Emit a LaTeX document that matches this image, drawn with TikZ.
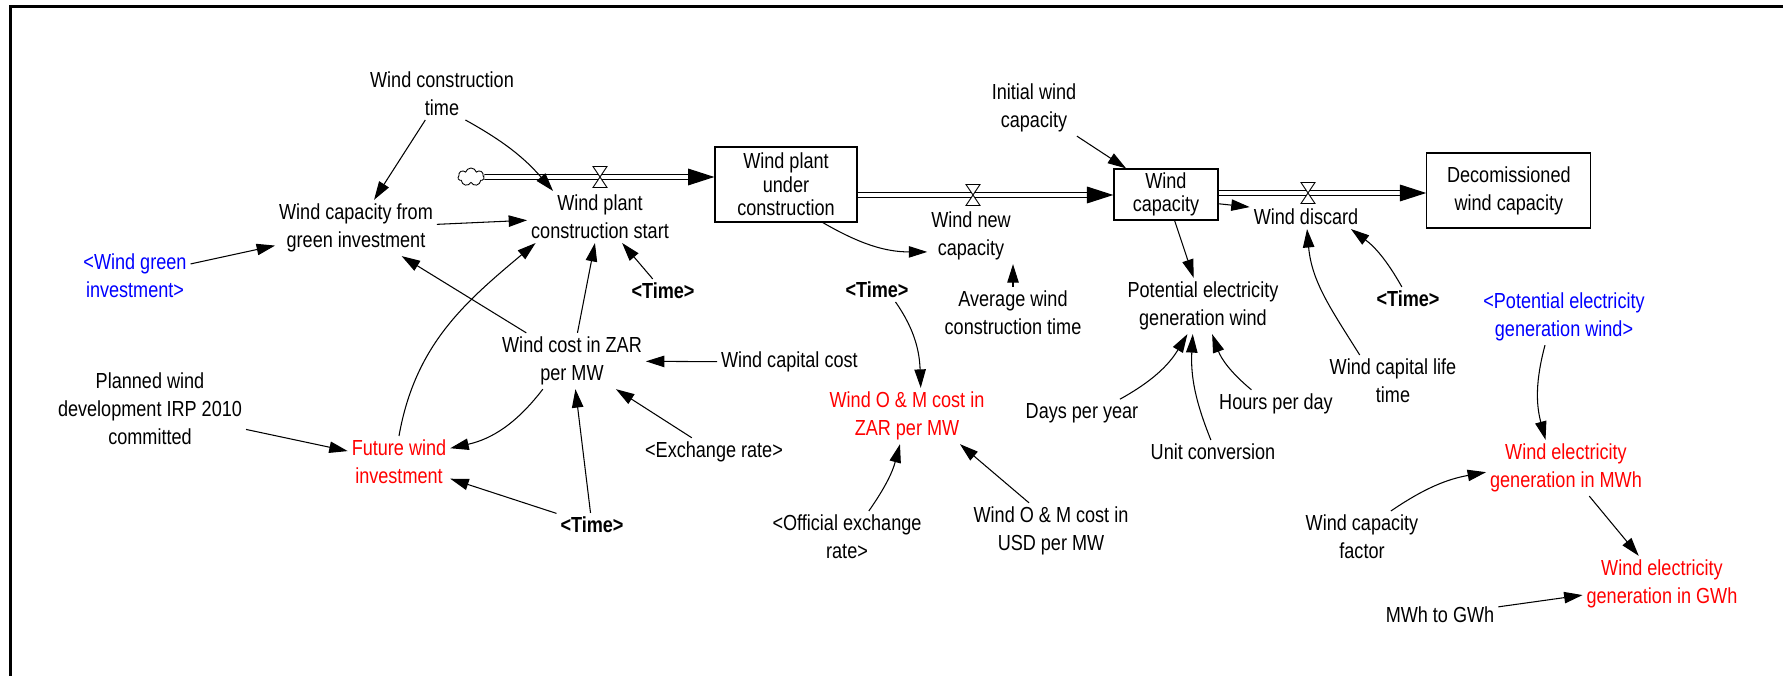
\documentclass[tikz,border=0pt]{standalone}
\usepackage{fontspec}
\setmainfont{Liberation Sans}[FakeStretch=0.83]
\usepackage{tikz}
\usetikzlibrary{arrows.meta,positioning,shapes.symbols,calc}

\newcommand\diafont{\fontsize{12.4}{15.9}\selectfont}
\newcommand\stockfont{\fontsize{12.4}{13.3}\selectfont}

\begin{document}
\begin{tikzpicture}[>={Triangle[length=10.5pt,width=6.5pt]},x=0.02cm,y=0.02cm,line width=.6pt,
  node distance=2cm,on grid,
  every node/.style={align=center,font=\diafont,inner sep=2pt},
  stock/.style={draw,line width=.7pt,font=\stockfont,inner sep=0pt},
  shadowvar/.style={text=blue},
  outvar/.style={text=red},
  timevar/.style={font=\diafont\bfseries},
  pipe/.style={double distance=2.2pt,line width=.6pt,shorten >=14pt},
  pipetip/.style={-{Triangle[length=15pt,width=9.5pt]}},
  valve/.pic={\draw[fill=white,line width=.5pt] (-7,10.5) -- (7,10.5) -- (-7,-10.5) -- (7,-10.5) -- cycle;}]
\useasboundingbox (0,0) rectangle (1783,676);
\draw[line width=1.7pt] (10.5,0) -- (10.5,669.7) -- (1783,669.7);

% stocks and flows
\node[stock,minimum width=2.84cm,minimum height=1.5cm] (WPUC) at (786,491.5) {Wind plant\\under\\construction};
\node[stock,minimum width=2.08cm,minimum height=1.02cm] (WC) [below right=0.2cm and 7.6cm of WPUC] {Wind\\capacity};
\node[stock,minimum width=3.28cm,minimum height=1.5cm,font=\diafont] (DWC) [above right=0.08cm and 6.86cm of WC] {Decomissioned\\wind capacity};
\coordinate (vA) at (600,499);
\coordinate (vB) at (973,481);
\coordinate (vC) at (1308,483);
\node[cloud,draw,cloud puffs=7,aspect=1.5,inner sep=0pt,minimum width=0.52cm,minimum height=0.36cm,line width=.5pt] (src) at (471,499) {};

\draw[pipe] (src) -- (WPUC.west |- vA);
\draw[pipetip] ($(WPUC.west |- vA)+(-15pt,0)$) -- (WPUC.west |- vA);
\draw[pipe] (WPUC.east |- vB) -- (WC.west |- vB);
\draw[pipetip] ($(WC.west |- vB)+(-15pt,0)$) -- (WC.west |- vB);
\draw[pipe] (WC.east |- vC) -- (DWC.west |- vC);
\draw[pipetip] ($(DWC.west |- vC)+(-15pt,0)$) -- (DWC.west |- vC);
\pic at (vA) {valve};
\pic at (vB) {valve};
\pic at (vC) {valve};

\node (WPCS) at (600,459) {Wind plant\\construction start};
\node (WNC) at (971,440) {Wind new\\capacity};
\node (WD) at (1306,459) {Wind discard};

% auxiliaries
\node (WCT) at (442,582) {Wind construction\\time};
\node (WCG) at (356,448) {Wind capacity from\\green investment};
\node[shadowvar] (WGI) at (135,400) {<Wind green\\investment>};
\node[timevar] (TimeA) at (663,385) {<Time>};
\node (WCZ) at (572,315) {Wind cost in ZAR\\per MW};
\node[anchor=west] (WCC) at (717,314) {Wind capital cost};
\node (ER) at (714,224) {<Exchange rate>};
\node[timevar] (TimeB) at (592,151) {<Time>};
\node[outvar] (FWI) at (399,214) {Future wind\\investment};
\node (PWD) at (150,267) {Planned wind\\development IRP 2010\\committed};
\node (AWCT) at (1013,363) {Average wind\\construction time};
\node[timevar] (TimeC) at (877,386) {<Time>};
\node[outvar] (OMZ) at (907,260) {Wind O \& M cost in\\ZAR per MW};
\node (OER) at (847,139) {<Official exchange\\rate>};
\node (OMU) at (1051,145) {Wind O \& M cost in\\USD per MW};
\node (IWC) at (1034,568) {Initial wind\\capacity};
\node (PEGW) at (1203,370) {Potential electricity\\generation wind};
\node (DPY) at (1082,263) {Days per year};
\node (UC) at (1213,224) {Unit conversion};
\node (HPD) at (1276,272) {Hours per day};
\node[timevar] (TimeD) at (1408,377) {<Time>};
\node (WCLT) at (1393,295) {Wind capital life\\time};
\node[shadowvar] (PEGWs) at (1564,359) {<Potential electricity\\generation wind>};
\node[outvar] (WEM) at (1566,208) {Wind electricity\\generation in MWh};
\node (WCF) at (1362,139) {Wind capacity\\factor};
\node[outvar] (WEG) at (1662,92) {Wind electricity\\generation in GWh};
\node (MTG) at (1440,61) {MWh to GWh};

% links
\tikzset{link/.style={->}}
\path (WCT) edge [link] (WCG)
      (WCT.-48) edge [link,bend left=10] (WPCS.151)
      (WCG) edge [link] (WPCS)
      (WGI) edge [link] (WCG)
      (WCZ) edge [link] (WCG)
      (WCZ) edge [link] (WPCS)
      (TimeA) edge [link] (WPCS)
      (WCC) edge [link] (WCZ)
      (ER) edge [link] (WCZ)
      (TimeB) edge [link] (WCZ)
      (TimeB) edge [link] (FWI)
      (WCZ.-136) edge [link,bend left=20] (FWI.15)
      (PWD) edge [link] (FWI)
      (FWI.north) edge [link,out=80,in=220] (WPCS.202);
\path (WPUC.-46) edge [link,out=-30,in=180] (WNC.200)
      (AWCT.north) edge [link] (AWCT.north |- WNC.south)
      (TimeC.-33) edge [link,out=-55,in=92] (OMZ.64)
      (OER.50) edge [link,bend right=10] (OMZ.-104)
      (OMU.128) edge [link] (OMZ.-28);
\path (IWC) edge [link] (WC)
      (WC) edge [link] (PEGW)
      (WC.-10) edge [link] (WD.170)
      (DPY.20) edge [link,bend right=15] (PEGW.-119)
      (UC.100) edge [link,out=112,in=-93] (PEGW.-110)
      (HPD.150) edge [link,bend left=15] (PEGW.-72)
      (TimeD.117) edge [link,bend right=12] (WD.-15)
      (WCLT.142) edge [link,out=122,in=-85] (WD.-85);
\path (PEGWs.-124) edge [link,out=-105,in=105] (WEM.126)
      (WCF.42) edge [link,bend left=12] (WEM.183)
      (WEM) edge [link] (WEG)
      (MTG) edge [link] (WEG);
\end{tikzpicture}
\end{document}
